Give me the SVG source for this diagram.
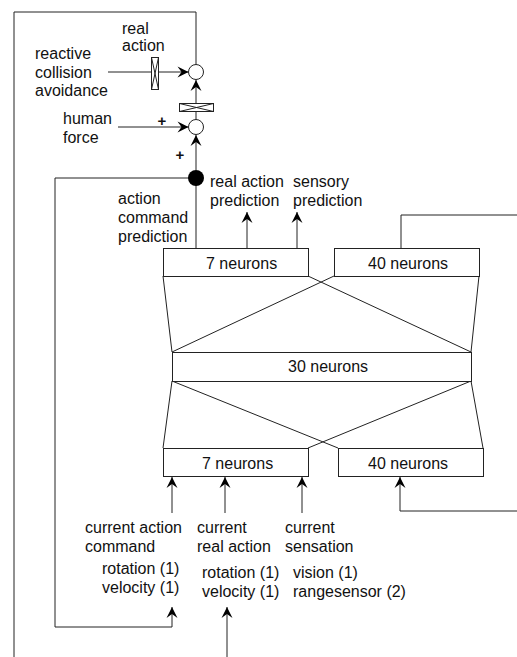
<svg xmlns="http://www.w3.org/2000/svg" width="517" height="657" viewBox="0 0 517 657">
<defs>
<style>
text{font-family:"Liberation Sans",Arial,sans-serif;font-size:16px;fill:#111}
.ln{fill:none;stroke:#222;stroke-width:1}
.box{fill:#fff;stroke:#222;stroke-width:1}
.plus{font-weight:bold;font-size:15px;text-anchor:middle}
</style>
<marker id="ah" viewBox="-13 -7 14 14" refX="0" refY="0" markerWidth="14" markerHeight="14" markerUnits="userSpaceOnUse" orient="auto">
<path d="M0,0 L-11,-5.5 L-7,0 L-11,5.5 Z" fill="#000"/>
</marker>
</defs>
<rect width="517" height="657" fill="#fff"/>
<g id="connectors">
<path class="ln" d="M14,657 L14,12 L196,12 L196,64.5"/>
<path class="ln" d="M108,72 L188.5,72" marker-end="url(#ah)"/>
<path class="ln" d="M196,119.5 L196,80" marker-end="url(#ah)"/>
<path class="ln" d="M118,127 L188.5,127" marker-end="url(#ah)"/>
<path class="ln" d="M196,170 L196,135" marker-end="url(#ah)"/>
<path class="ln" d="M196,178 L196,248"/>
<path class="ln" d="M196,178 L55,178 L55,627 L172,627 L172,607" marker-end="url(#ah)"/>
<path class="ln" d="M227,657 L227,607" marker-end="url(#ah)"/>
<path class="ln" d="M247,248 L247,212" marker-end="url(#ah)"/>
<path class="ln" d="M297,248 L297,212" marker-end="url(#ah)"/>
<path class="ln" d="M401,248 L401,215 L517,215"/>
<path class="ln" d="M517,511 L400,511 L400,477" marker-end="url(#ah)"/>
<path class="ln" d="M172,513 L172,477" marker-end="url(#ah)"/>
<path class="ln" d="M225,513 L225,477" marker-end="url(#ah)"/>
<path class="ln" d="M302,513 L302,477" marker-end="url(#ah)"/>
<path class="ln" d="M163,276 L172,352 M479,276 L471,352 M308,276 L471,352 M334,276 L172,352"/>
<path class="ln" d="M172,381 L163,448 M471,381 L483,448 M172,381 L338,448 M471,381 L308,448"/>
</g>
<g id="gate1"><rect class="box" x="151.5" y="57.5" width="7" height="32"/><path class="ln" d="M151.5,57.5 L158.5,89.5 M158.5,57.5 L151.5,89.5"/></g>
<g id="gate2"><rect class="box" x="179.5" y="103.5" width="34" height="8"/><path class="ln" d="M179.5,103.5 L213.5,111.5 M213.5,103.5 L179.5,111.5"/></g>
<g id="sum1"><circle cx="196" cy="72" r="7.5" class="box"/></g>
<g id="sum2"><circle cx="196" cy="127" r="7.5" class="box"/></g>
<g id="branch"><circle cx="196" cy="178" r="8" fill="#000"/></g>
<g id="out7"><rect class="box" x="163.5" y="248.5" width="145" height="28"/><text x="206" y="269">7 neurons</text></g>
<g id="out40"><rect class="box" x="334.5" y="248.5" width="145" height="28"/><text x="368" y="269">40 neurons</text></g>
<g id="hid30"><rect class="box" x="172.5" y="352.5" width="299" height="29"/><text x="288" y="372">30 neurons</text></g>
<g id="in7"><rect class="box" x="163.5" y="448.5" width="145" height="28"/><text x="202" y="468.5">7 neurons</text></g>
<g id="in40"><rect class="box" x="338.5" y="448.5" width="145" height="28"/><text x="368" y="468.5">40 neurons</text></g>
<g id="labels">
<text x="122" y="33.5">real</text>
<text x="122" y="50.5">action</text>
<text x="35" y="58.5">reactive</text>
<text x="35" y="77.5">collision</text>
<text x="35" y="95.5">avoidance</text>
<text x="63" y="123.5">human</text>
<text x="63" y="142.5">force</text>
<text class="plus" x="162" y="126">+</text>
<text class="plus" x="180" y="160">+</text>
<text x="118" y="203.5">action</text>
<text x="118" y="222.5">command</text>
<text x="118" y="241.5">prediction</text>
<text x="210" y="187">real action</text>
<text x="210" y="206">prediction</text>
<text x="293" y="187">sensory</text>
<text x="293" y="206">prediction</text>
<text x="85" y="532.5">current action</text>
<text x="85" y="551.5">command</text>
<text x="197" y="532.5">current</text>
<text x="197" y="551.5">real action</text>
<text x="285" y="532.5">current</text>
<text x="285" y="551.5">sensation</text>
<text x="102" y="573.5">rotation (1)</text>
<text x="102" y="592.5">velocity (1)</text>
<text x="202" y="577.5">rotation (1)</text>
<text x="202" y="596.5">velocity (1)</text>
<text x="293" y="577.5">vision (1)</text>
<text x="293" y="596.5">rangesensor (2)</text>
</g>
</svg>
